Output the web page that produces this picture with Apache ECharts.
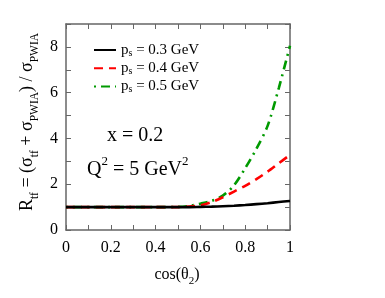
<!DOCTYPE html>
<html><head><meta charset="utf-8">
<script src="https://cdn.jsdelivr.net/npm/echarts@6/dist/echarts.min.js"></script>
<style>html,body{margin:0;padding:0;background:#fff}#c{width:385px;height:298px}</style>
</head><body><div id="c"></div>
<script>
var cosTheta = [0, 0.1, 0.2, 0.3, 0.4, 0.5, 0.55, 0.6, 0.65, 0.7, 0.75, 0.8, 0.85, 0.9, 0.95, 1.0];
var ratio03 = [1, 1, 1, 1, 1, 1, 1.0, 1.01, 1.02, 1.04, 1.06, 1.09, 1.13, 1.17, 1.22, 1.27];
var ratio04 = [1, 1, 1, 1, 1, 1, 1.03, 1.08, 1.22, 1.43, 1.68, 1.93, 2.22, 2.55, 2.92, 3.28];
var ratio05 = [1, 1, 1, 1, 1, 1.01, 1.05, 1.15, 1.27, 1.5, 1.95, 2.7, 3.55, 4.55, 6.2, 8.05];
var seriesNames = ['0.3', '0.4', '0.5'];
var xTickLabels = ['0', '0.2', '0.4', '0.6', '0.8', '1'];
var yTickLabels = ['0', '2', '4', '6', '8'];

function pairs(ys) { return cosTheta.map(function (x, i) { return [x, ys[i]]; }); }
var FONT = 'Liberation Serif';
var frame = '#666';

function xFmt(v) { var s = String(Math.round(v * 10) / 10); return xTickLabels.indexOf(s) >= 0 ? s : ''; }
function yFmt(v) { var s = String(Math.round(v)); return yTickLabels.indexOf(s) >= 0 ? s : ''; }

function axisBase(showLabel, fmt, interval, min, max) {
  return {
    type: 'value', min: min, max: max, interval: interval,
    axisLine: { show: true, onZero: false, lineStyle: { color: frame, width: 1.5 } },
    axisTick: { show: true, inside: true, length: 5, lineStyle: { color: frame, width: 1 } },
    axisLabel: { show: showLabel, formatter: fmt, color: '#000', fontFamily: FONT, fontSize: 16, margin: 10, showMaxLabel: true },
    splitLine: { show: false }
  };
}

var chart = echarts.init(document.getElementById('c'), null, { renderer: 'canvas' });
var xb = axisBase(true, xFmt, 0.1, 0, 1); xb.position = 'bottom';
var xt = axisBase(false, xFmt, 0.1, 0, 1); xt.position = 'top';
var yl = axisBase(true, yFmt, 1, 0, 9); yl.position = 'left'; yl.axisLabel.margin = 8;
var yr = axisBase(false, yFmt, 1, 0, 9); yr.position = 'right';

var colors = ['#000000', '#ff0000', '#009a00'];
var types = ['solid', [9, 6], [2, 5, 9, 5]];
var datas = [ratio03, ratio04, ratio05];
var series = datas.map(function (d, i) {
  return {
    name: seriesNames[i], type: 'line', data: pairs(d), smooth: 0.3,
    symbol: 'none', showSymbol: false, xAxisIndex: 0, yAxisIndex: 0,
    lineStyle: { color: colors[i], width: 2.6, type: types[i] },
    itemStyle: { color: colors[i] }, z: 3 - i
  };
});

chart.setOption({
  animation: false,
  grid: { left: 66, right: 95, top: 24, bottom: 68, containLabel: false },
  xAxis: [xb, xt],
  yAxis: [yl, yr],
  legend: {
    orient: 'vertical', left: 88, top: 36, itemWidth: 22, itemHeight: 12, itemGap: 1.2,
    itemStyle: { opacity: 0, borderWidth: 0 },
    data: seriesNames,
    formatter: function (n) { return 'p{s|s} = ' + n + ' GeV'; },
    textStyle: { fontFamily: FONT, fontSize: 15, color: '#000', lineHeight: 16,
      rich: { s: { fontFamily: FONT, fontSize: 10, verticalAlign: 'bottom', lineHeight: 16, padding: [7, 0, 0, 0] } } }
  },
  series: series,
  graphic: [
    { type: 'text', left: 107, top: 126, style: { text: 'x = 0.2', fontFamily: FONT, fontSize: 20, fill: '#000' } },
    { type: 'text', x: 87, y: 170, style: {
        text: 'Q{sup|2} = 5 GeV{sup|2}', fontFamily: FONT, fontSize: 20, fill: '#000', verticalAlign: 'middle',
        rich: { sup: { fontFamily: FONT, fontSize: 13, verticalAlign: 'top', lineHeight: 30, padding: [0, 0, 0, 0] } } } },
    { type: 'text', x: 27, y: 122, rotation: Math.PI / 2, style: {
        text: 'R{sub|tf} = (σ{sub|tf} + σ{sub|PWIA}) / σ{sub|PWIA}', fontFamily: FONT, fontSize: 18, fill: '#000',
        align: 'center', verticalAlign: 'middle',
        rich: { sub: { fontFamily: FONT, fontSize: 11.5, verticalAlign: 'bottom', lineHeight: 27 } } } },
    { type: 'text', x: 177, y: 275, style: {
        text: 'cos(θ{sub|2})', fontFamily: FONT, fontSize: 16, fill: '#000', align: 'center', verticalAlign: 'middle',
        rich: { sub: { fontFamily: FONT, fontSize: 11, verticalAlign: 'bottom', lineHeight: 24 } } } }
  ]
});
</script></body></html>
